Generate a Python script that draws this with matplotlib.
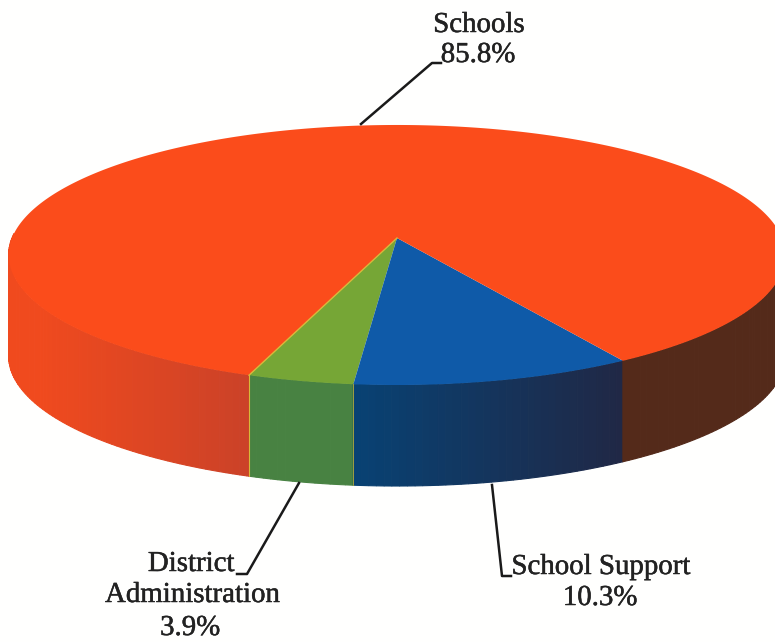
import numpy as np
import matplotlib
matplotlib.use("Agg")
import matplotlib.pyplot as plt
import matplotlib.patheffects as pe
from matplotlib.patches import Polygon

# Budget shares drawn clockwise from the front-left edge of the disc
categories = ["District\nAdministration", "School Support", "Schools"]
shares = [3.9, 10.3, 85.8]
top_colors = ["#76a636", "#0f5aa8", "#fb4c1b"]
start_deg = -19.7

# Perspective model of the disc in pixel coordinates
CX, CY = 397.0, 238.0
RX, RY = 385.0, 127.8
K = 0.1307
DEPTH = 101.0

plt.rcParams["font.family"] = ["Liberation Serif", "DejaVu Serif"]
fig = plt.figure(figsize=(7.75, 6.42), dpi=100, facecolor="#fffffe")
ax = fig.add_axes([0, 0, 1, 1])
ax.set_xlim(0, 775)
ax.set_ylim(642, 0)
ax.axis("off")


def project(theta_deg):
    t = np.radians(np.asarray(theta_deg, dtype=float))
    x, y = np.sin(t), np.cos(t)
    w = 1 - K * y
    return CX + RX * x / w, CY + RY * y / w


def mix(c0, c1, f):
    return tuple((a + (b - a) * f) / 255 for a, b in zip(c0, c1))


def side_color(theta):
    px = float(project(theta)[0])
    if theta < edges[1]:
        return (72 / 255, 130 / 255, 66 / 255)
    if theta < edges[2]:
        return mix((8, 66, 116), (32, 40, 70), np.clip((px - 354) / 266, 0, 1))
    if theta < 180:
        return (84 / 255, 42 / 255, 26 / 255)
    return mix((240, 74, 30), (203, 66, 40), np.clip((px - 40) / 208, 0, 1))


edges = start_deg + np.concatenate([[0], np.cumsum(shares)]) * 3.6

# Outer wall, split into short strips so the shading can vary along it;
# strips run from the back of each end towards the front so seams stay hidden
segments = [
    np.append(np.arange(edges[0], edges[1], 1.0), edges[1]),
    np.append(np.arange(edges[1], edges[2], 1.0), edges[2]),
    np.append(np.arange(edges[2], 92, 1.0), 92),
    np.append(np.arange(268, edges[3], 1.0), edges[3]),
]
for seg in segments:
    for a0, a1 in zip(seg[:-1], seg[1:]):
        xs, ys = project(np.linspace(a0, a1, 3))
        poly = np.r_[np.c_[xs, ys], np.c_[xs[::-1], ys[::-1] + DEPTH]]
        c = side_color((a0 + a1) / 2)
        ax.add_patch(Polygon(poly, closed=True, fc=c, ec=c, lw=0.8, zorder=2))

# Top face wedges
for i, color in enumerate(top_colors):
    xs, ys = project(np.linspace(edges[i], edges[i + 1], 400))
    poly = np.r_[[[CX, CY]], np.c_[xs, ys]]
    ax.add_patch(Polygon(poly, closed=True, fc=color, ec="none", zorder=3))

# Thin light seams around the green wedge
seam = "#d8b83a"
x, y = project(edges[0])
ax.plot([CX, x], [CY, y], color=seam, lw=1.0, zorder=4)
ax.plot([x, x], [y, y + DEPTH], color=seam, lw=0.8, zorder=4)
x, y = project(edges[1])
ax.plot([x, x], [y, y + DEPTH], color="#a0a040", lw=0.7, zorder=4)

# Leader lines
line = dict(color="#1a1a1a", lw=1.8, solid_joinstyle="round", zorder=5)
ax.plot([361, 432, 441], [124, 63, 63], **line)
ax.plot([299, 247, 237], [483, 574, 574], **line)
ax.plot([492, 502, 511], [485, 576, 576], **line)

# Labels
text = dict(color="#222222", fontsize=20.8, ha="center", va="center", zorder=6,
            path_effects=[pe.withStroke(linewidth=0.35, foreground="#222222")])
ax.text(479, 25, "Schools", **text)
ax.text(478, 55, f"{shares[2]}%", **text)
ax.text(191, 564, "District", **text)
ax.text(192, 595, "Administration", **text)
ax.text(190, 628, f"{shares[0]}%", **text)
ax.text(601, 567, categories[1], **text)
ax.text(600, 598, f"{shares[1]}%", **text)

fig.savefig("out.png", dpi=100, facecolor=fig.get_facecolor())
